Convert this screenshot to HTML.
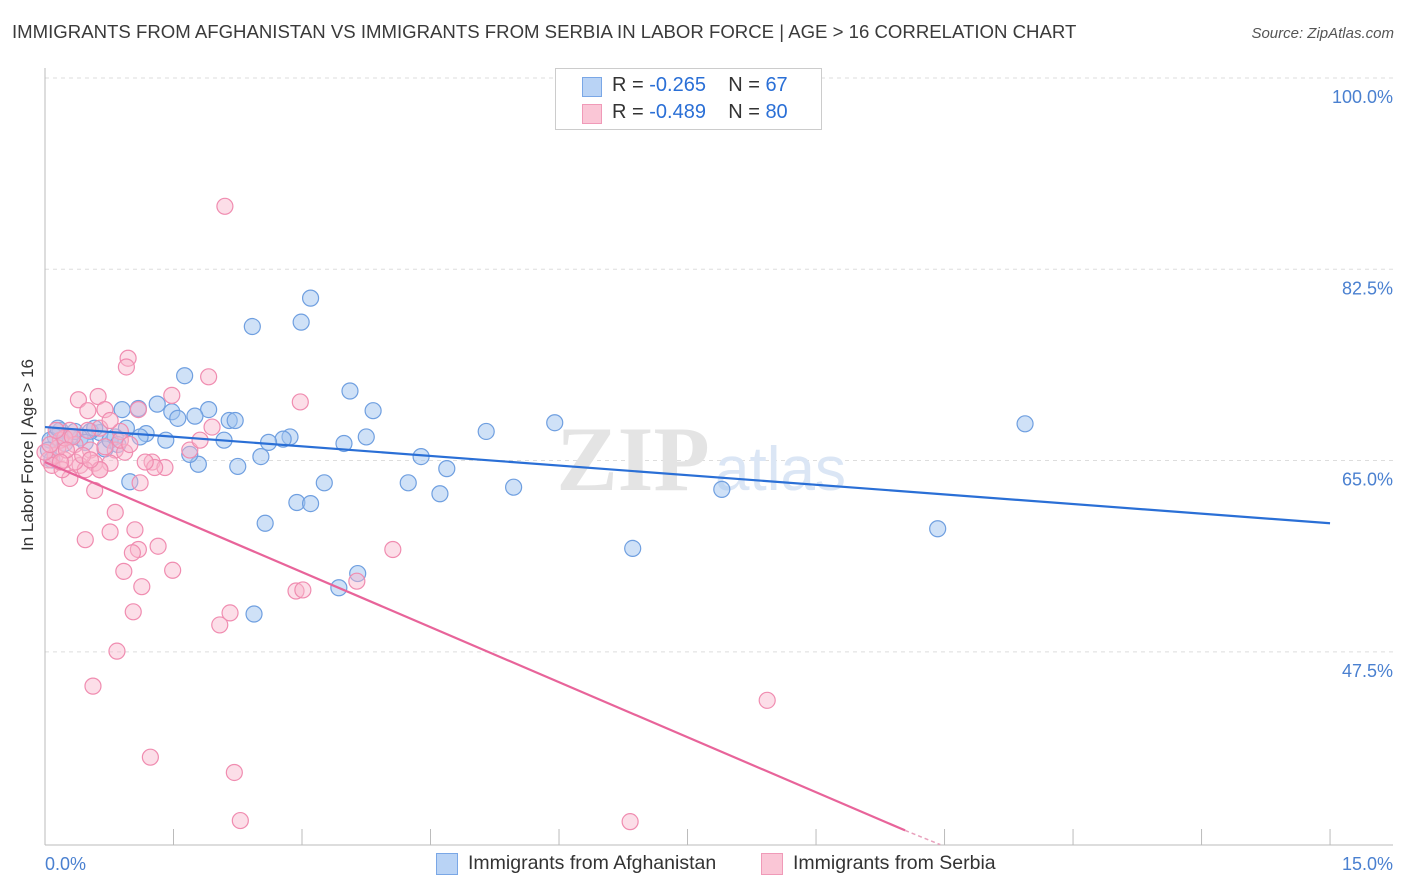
<!DOCTYPE html>
<html><head><meta charset="utf-8">
<style>
body{margin:0;background:#fff;font-family:"Liberation Sans",sans-serif;}
#wrap{position:relative;width:1406px;height:892px;overflow:hidden;}
.t{position:absolute;white-space:nowrap;}
</style></head>
<body>
<div id="wrap">
<div class="t" style="left:12px;top:21px;font-size:18.6px;color:#3a3a3a;">IMMIGRANTS FROM AFGHANISTAN VS IMMIGRANTS FROM SERBIA IN LABOR FORCE | AGE &gt; 16 CORRELATION CHART</div>
<div class="t" style="right:12px;top:25px;font-size:15px;color:#555;font-style:italic;">Source: ZipAtlas.com</div>
<div class="t" style="left:28px;top:455px;font-size:17px;color:#333;transform:translate(-50%,-50%) rotate(-90deg);">In Labor Force | Age &gt; 16</div>
<svg id="plot" width="1406" height="892" style="position:absolute;left:0;top:0"></svg>
<div style="position:absolute;left:555px;top:68px;width:267px;height:62px;border:1px solid #ccc;background:#fff;box-sizing:border-box;">
 <div style="position:absolute;left:26px;top:8px;width:18px;height:18px;background:#b9d3f5;border:1px solid #7aa7e6;"></div>
 <div class="t" style="left:56px;top:5px;font-size:20px;color:#333;">R = <span style="color:#2a6fd6">-0.265</span>&nbsp;&nbsp;&nbsp; N = <span style="color:#2a6fd6">67</span></div>
 <div style="position:absolute;left:26px;top:35px;width:18px;height:18px;background:#fac6d6;border:1px solid #f09ab8;"></div>
 <div class="t" style="left:56px;top:32px;font-size:20px;color:#333;">R = <span style="color:#2a6fd6">-0.489</span>&nbsp;&nbsp;&nbsp; N = <span style="color:#2a6fd6">80</span></div>
</div>
<div style="position:absolute;left:436px;top:853px;width:20px;height:20px;background:#b9d3f5;border:1px solid #7aa7e6;"></div>
<div class="t" style="left:468px;top:852px;font-size:19.5px;color:#333;">Immigrants from Afghanistan</div>
<div style="position:absolute;left:761px;top:853px;width:20px;height:20px;background:#fac6d6;border:1px solid #f09ab8;"></div>
<div class="t" style="left:793px;top:852px;font-size:19.5px;color:#333;">Immigrants from Serbia</div>
</div>
<script>
const yTicks=[100,82.5,65,47.5];
const yTickLabels=["100.0%","82.5%","65.0%","47.5%"];
const xTicks=[0,1.5,3,4.5,6,7.5,9,10.5,12,13.5,15];
const xTickLabels=["0.0%","15.0%"];
const afgX=[3.10,2.99,2.42,1.63,3.56,5.95,11.44,5.15,3.83,1.91,1.31,0.90,1.09,1.48,1.55,1.75,2.15,2.22,1.18,1.41,2.09,2.86,2.78,2.61,3.75,3.49,2.52,2.25,1.79,1.69,4.39,4.69,5.47,4.24,4.61,3.26,2.94,3.10,2.57,7.90,10.42,6.86,3.65,3.43,2.44,0.99,0.70,0.95,0.82,0.64,0.53,0.41,0.29,0.18,0.12,0.06,0.23,0.35,0.58,0.76,0.47,0.15,0.04,0.08,1.11,0.85];
const afgY=[81.6,79.4,79.0,74.5,73.1,70.2,70.1,69.4,71.3,71.4,71.9,71.4,71.5,71.2,70.6,70.8,70.4,70.4,69.2,68.6,68.6,68.9,68.7,68.4,68.9,68.3,67.1,66.2,66.4,67.3,67.1,66.0,64.3,64.7,63.7,64.7,62.9,62.8,61.0,64.1,60.5,58.7,56.4,55.1,52.7,64.8,67.8,69.7,68.9,69.3,69.4,68.8,68.9,69.5,68.9,68.6,68.3,69.4,69.7,68.6,68.4,69.7,67.7,66.8,68.9,68.2];
const serX=[2.10,0.97,0.95,1.91,2.98,1.48,0.62,0.39,0.50,0.70,1.09,1.95,0.88,0.64,0.29,0.18,0.35,0.53,0.82,0.93,0.12,0.23,0.41,0.58,0.76,0.47,0.29,0.64,1.25,1.40,1.28,1.11,0.58,0.82,0.76,1.05,0.47,1.32,1.09,1.02,0.92,1.49,1.13,4.06,2.93,3.01,3.64,1.03,2.16,2.04,0.84,0.56,1.23,2.21,2.28,6.83,8.43,0.04,0.08,0.15,0.23,0.0,0.20,0.35,0.06,0.70,0.50,0.88,1.69,1.81,0.44,0.32,0.13,0.25,0.76,0.99,1.17,0.64,0.53,0.18];
const serY=[90.0,76.1,75.3,74.4,72.1,72.7,72.6,72.3,71.3,71.4,71.4,69.8,69.4,69.7,69.5,68.6,68.2,67.7,67.7,67.5,67.2,66.8,66.3,66.5,66.5,65.9,65.1,65.9,66.6,66.1,66.1,64.7,64.0,62.0,60.2,60.4,59.5,58.9,58.6,58.3,56.6,56.7,55.2,58.6,54.8,54.9,55.7,52.9,52.8,51.7,49.3,46.1,39.6,38.2,33.8,33.7,44.8,66.8,66.3,67.9,68.8,67.5,65.9,66.6,68.2,68.0,69.5,68.6,67.7,68.6,67.2,68.9,69.5,67.7,70.4,68.2,66.6,65.9,66.8,66.6];
const afgTrendX=[0,15], afgTrendY=[69.8,61.0];
const serTrendX=[0,10.04], serTrendY=[66.6,32.9];
const serDashX=[10.04,10.45], serDashY=[32.9,31.6];

const X=v=>45+v*85.67;
const Y=v=>97+(100-v)*10.93;
const svg=document.getElementById('plot');
const NS='http://www.w3.org/2000/svg';
function mk(tag,attrs,parent){const e=document.createElementNS(NS,tag);for(const k in attrs)e.setAttribute(k,attrs[k]);(parent||svg).appendChild(e);return e;}

yTicks.forEach((t,i)=>{
 const g=mk('line',{x1:45,x2:1393,y1:Y(t)-19,y2:Y(t)-19,stroke:'#ddd','stroke-dasharray':'4,4'});
 
 
 const tx=mk('text',{x:1393,y:Y(t)+6,'text-anchor':'end','font-size':18,fill:'#4a80d0','font-family':'Liberation Sans'});
 tx.textContent=yTickLabels[i];
 
 
});
const ax=mk('line',{x1:45,x2:45,y1:68,y2:845,stroke:'#bbb'});


const bx=mk('line',{x1:45,x2:1393,y1:845,y2:845,stroke:'#bbb'});


xTicks.forEach(t=>{
 const l=mk('line',{x1:X(t),x2:X(t),y1:829,y2:845,stroke:'#bbb'});
 
 
});
[[0,'start'],[15,'end']].forEach((p,i)=>{
 const tx=mk('text',{x:i?1393:45,y:870,'text-anchor':p[1],'font-size':18,fill:'#4a80d0','font-family':'Liberation Sans'});
 tx.textContent=xTickLabels[i];
 
 
});
const wm=mk('text',{x:633,y:490,'text-anchor':'middle','font-size':92,fill:'#e4e4e4','font-family':'Liberation Serif','font-weight':'bold'});
wm.textContent='ZIP';


const wm2=mk('text',{x:715,y:490,'font-size':62,fill:'#dbe6f5','font-family':'Liberation Sans'});
wm2.textContent='atlas';



afgX.forEach((v,i)=>{
 const c=mk('circle',{cx:X(v),cy:Y(afgY[i]),r:8,fill:'rgba(160,196,240,0.5)',stroke:'#6f9fe0','stroke-width':1.2});
 
 
});
serX.forEach((v,i)=>{
 const c=mk('circle',{cx:X(v),cy:Y(serY[i]),r:8,fill:'rgba(248,182,204,0.45)',stroke:'#f08cb0','stroke-width':1.2});
 
 
});
const l1=mk('line',{x1:X(afgTrendX[0]),y1:Y(afgTrendY[0]),x2:X(afgTrendX[1]),y2:Y(afgTrendY[1]),stroke:'#2a6fd6','stroke-width':2.2});


const l2=mk('line',{x1:X(serTrendX[0]),y1:Y(serTrendY[0]),x2:X(serTrendX[1]),y2:Y(serTrendY[1]),stroke:'#e8649a','stroke-width':2.2});


const l3=mk('line',{x1:X(serDashX[0]),y1:Y(serDashY[0]),x2:X(serDashX[1]),y2:Y(serDashY[1]),stroke:'#e8a0bc','stroke-width':1.5,'stroke-dasharray':'4,3'});


</script>
</body></html>
